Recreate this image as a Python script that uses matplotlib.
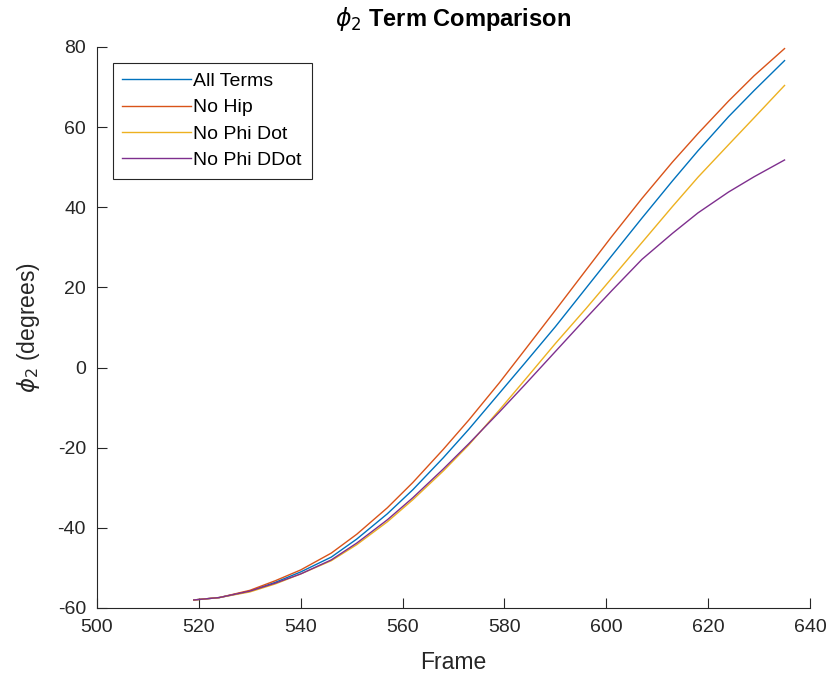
import matplotlib
matplotlib.use("Agg")
import matplotlib.pyplot as plt

plt.rcParams['font.family'] = ['Liberation Sans', 'DejaVu Sans']
plt.rcParams['mathtext.fontset'] = 'dejavusans'
plt.rcParams['axes.unicode_minus'] = False

# Frame numbers and phi_2 angle (degrees) for each term configuration
frames = [519, 524, 530, 535, 540, 546, 551, 557, 562, 568, 573,
          579, 584, 590, 596, 601, 607, 613, 618, 624, 629, 635]
all_terms = [-58, -57.4, -55.8, -53.6, -51, -47.3, -42.8, -36.5, -30.5, -22.5, -15.4,
             -6.4, 1.1, 10.2, 19.8, 27.8, 37.3, 46.6, 54.1, 62.6, 69.1, 76.6]
no_hip = [-58, -57.4, -55.6, -53.2, -50.5, -46.3, -41.6, -35, -28.7, -20.4, -13.1,
          -3.8, 4.4, 14.3, 24.3, 32.6, 42.2, 51.3, 58.4, 66.5, 72.8, 79.6]
no_phi_dot = [-58, -57.4, -56, -54, -51.5, -48.2, -44.2, -38.5, -33, -25.8, -19.3,
              -10.6, -3.1, 6, 14.7, 22.2, 31.2, 40.2, 47.5, 55.6, 62.3, 70.4]
no_phi_ddot = [-58, -57.4, -55.8, -53.8, -51.5, -48, -43.8, -38, -32.5, -25.3, -19,
               -11.1, -4.3, 4, 12.3, 19.1, 27, 33.5, 38.6, 43.8, 47.6, 51.8]

series = [
    ("All Terms", all_terms, "#0072BD"),
    ("No Hip", no_hip, "#D95319"),
    ("No Phi Dot", no_phi_dot, "#EDB120"),
    ("No Phi DDot", no_phi_ddot, "#7E2F8E"),
]

axis_color = "#262626"

fig = plt.figure(figsize=(8.33, 6.79), dpi=100)
ax = fig.add_axes([0.1165, 0.1046, 0.8559, 0.8262])

for label, vals, color in series:
    ax.plot(frames, vals, color=color, lw=1.0, label=label)

ax.set_xlim(500, 640)
ax.set_ylim(-60, 80)
ax.set_xticks(range(500, 641, 20))
ax.set_yticks(range(-60, 81, 20))

for side in ("top", "right"):
    ax.spines[side].set_visible(False)
for side in ("left", "bottom"):
    ax.spines[side].set_color(axis_color)
    ax.spines[side].set_linewidth(0.8)

ax.tick_params(direction="in", length=7, width=0.8, colors=axis_color,
               labelsize=14, pad=8)

ax.set_xlabel("Frame", fontsize=16.5, color=axis_color, labelpad=11)
ax.set_ylabel(r"$\phi_2$ (degrees)", fontsize=16.5, color=axis_color, labelpad=11)
ax.set_title(r"$\phi_2$ Term Comparison", fontsize=17, fontweight="bold",
             color="black", pad=15)

leg = ax.legend(loc="upper left", bbox_to_anchor=(0.022, 0.972), fontsize=14,
                handlelength=3.5, handletextpad=0.15, borderpad=0.5,
                labelspacing=0.45, fancybox=False, framealpha=1,
                edgecolor=axis_color, borderaxespad=0)
leg.get_frame().set_linewidth(0.8)
for t in leg.get_texts():
    t.set_color("black")

fig.savefig("out.png", dpi=100, facecolor="white")
